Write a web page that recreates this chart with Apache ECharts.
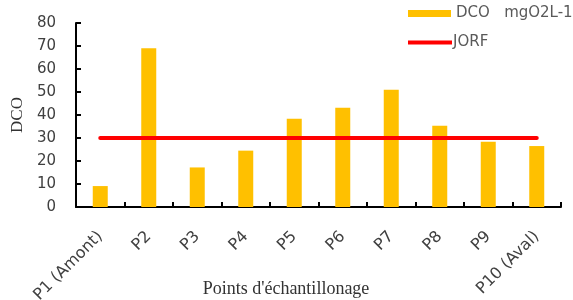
<!DOCTYPE html>
<html><head><meta charset="utf-8">
<script src="https://cdn.jsdelivr.net/npm/echarts@6/dist/echarts.min.js"></script>
<style>html,body{margin:0;padding:0;background:#fff}#c{width:573px;height:300px}</style>
</head><body><div id="c"></div>
<script>
const categories = ['P1 (Amont)','P2','P3','P4','P5','P6','P7','P8','P9','P10 (Aval)'];
const dcoValues = [9.1, 69, 17.2, 24.5, 38.4, 43.2, 51, 35.3, 28.4, 26.5];
const jorfValues = [30, 30, 30, 30, 30, 30, 30, 30, 30, 30];
const seriesNames = ['DCO   mgO2L-1', 'JORF'];
const yTicks = {min:0, max:80, interval:10};

const chart = echarts.init(document.getElementById('c'), null, {renderer:'canvas'});
const sansFont = '"DejaVu Sans", sans-serif';
const serifFont = '"Liberation Serif", "DejaVu Serif", serif';
chart.setOption({
  animation:false,
  backgroundColor:'#fff',
  title:{text:"Points d'échantillonage", left:281, top:275, textAlign:'center',
    textStyle:{fontFamily:serifFont, fontSize:18, fontWeight:'normal', color:'#333'}},
  legend:[
    {data:[seriesNames[0]], left:408, top:6, padding:0, icon:'rect', itemWidth:43, itemHeight:7, itemGap:0,
      textStyle:{fontFamily:sansFont, fontSize:15, color:'#595959'}},
    {data:[seriesNames[1]], left:408, top:35, padding:0, icon:'rect', itemWidth:44, itemHeight:4, itemGap:0,
      textStyle:{fontFamily:sansFont, fontSize:15, color:'#595959', padding:[0,0,0,-4]}}
  ],
  grid:{left:76, right:12, top:23, bottom:93, containLabel:false, outerBoundsMode:'none'},
  xAxis:{type:'category', data:categories, boundaryGap:true,
    axisLine:{lineStyle:{color:'#000', width:2}},
    axisTick:{show:true, inside:true, length:5, lineStyle:{color:'#000', width:2}},
    axisLabel:{rotate:45, margin:27, interval:0, fontFamily:sansFont, fontSize:16, color:'#404040'}},
  yAxis:{type:'value', min:yTicks.min, max:yTicks.max, interval:yTicks.interval, name:'DCO', nameLocation:'middle', nameGap:45,
    nameTextStyle:{fontFamily:serifFont, fontSize:17, color:'#333'},
    splitLine:{show:false},
    axisLine:{show:true, lineStyle:{color:'#000', width:2}},
    axisTick:{show:true, inside:true, length:5, lineStyle:{color:'#000', width:2}},
    axisLabel:{margin:20, fontFamily:sansFont, fontSize:15, color:'#404040'}},
  series:[
    {name:seriesNames[0], type:'bar', data:dcoValues, barWidth:15, itemStyle:{color:'#FFC000'}},
    {name:seriesNames[1], type:'line', data:jorfValues, symbol:'none', lineStyle:{color:'#FF0000', width:4, cap:'round'}, itemStyle:{color:'#FF0000'}, z:5}
  ]
});
</script></body></html>
